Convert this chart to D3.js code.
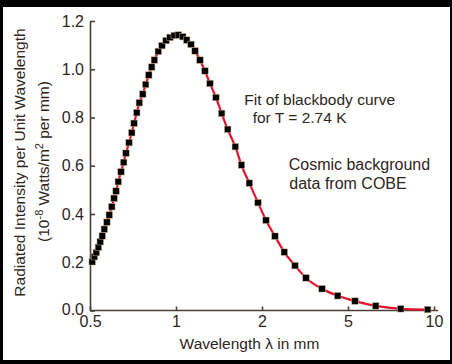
<!DOCTYPE html>
<html>
<head>
<meta charset="utf-8">
<script src="https://cdn.jsdelivr.net/npm/d3@7"></script>
<style>
  body { margin: 0; background: #000; }
  text { font-family: "Liberation Sans", Arial, Helvetica, sans-serif; fill: #2e251c; }
</style>
</head>
<body>
<div class="container"></div>
<script>
const WIDTH = 452;
const HEIGHT = 364;

// wavelength in mm
var wavelength = [0.509, 0.518, 0.526, 0.535, 0.543, 0.552, 0.561, 0.573, 0.584, 0.596,
    0.607, 0.617, 0.628, 0.642, 0.656, 0.668, 0.685, 0.700, 0.713, 0.729,
    0.744, 0.765, 0.783, 0.803, 0.822, 0.840, 0.867, 0.893, 0.923, 0.953,
    0.986, 1.019, 1.056, 1.090, 1.129, 1.166, 1.213, 1.263, 1.315, 1.380,
    1.445, 1.517, 1.613, 1.695, 1.806, 1.937, 2.087, 2.297, 2.536, 2.843,
    3.196, 3.790, 4.480, 5.290, 6.251, 7.646, 9.503];

// intensity, 10^-8 W/m^2 per mm
var intensity = [0.202, 0.223, 0.240, 0.262, 0.285, 0.309, 0.337, 0.366, 0.396, 0.430,
    0.465, 0.495, 0.534, 0.575, 0.614, 0.652, 0.696, 0.737, 0.776, 0.820,
    0.861, 0.897, 0.937, 0.976, 1.009, 1.038, 1.074, 1.098, 1.119, 1.132,
    1.140, 1.142, 1.135, 1.121, 1.103, 1.076, 1.038, 0.993, 0.941, 0.883,
    0.817, 0.751, 0.679, 0.603, 0.528, 0.447, 0.374, 0.308, 0.242, 0.186,
    0.135, 0.090, 0.061, 0.039, 0.019, 0.007, 0.004];

var xTicks = [0.5, 1, 2, 5, 10];
var yTicks = [0, 0.2, 0.4, 0.6, 0.8, 1.0, 1.2];

var points = wavelength.map(function (w, i) {
    return {x: w, y: intensity[i]};
});

// tick marks sit evenly spaced on the original, so the log scale is piecewise
var xScale = d3.scaleLog()
    .domain(xTicks)
    .range([90, 176, 262, 348, 434]);

var yScale = d3.scaleLinear()
    .domain([0, 1.2])
    .range([310.5, 21]);

var svg = d3.select('.container').append('svg')
    .attr('width', WIDTH)
    .attr('height', HEIGHT)
    .style('display', 'block');

// black frame, white panel
svg.append('rect')
    .attr('width', WIDTH).attr('height', HEIGHT)
    .attr('fill', '#000');
svg.append('rect')
    .attr('x', 3).attr('y', 7)
    .attr('width', 447).attr('height', 353)
    .attr('fill', '#fff');

var xAxis = d3.axisBottom(xScale)
    .tickValues(xTicks)
    .tickFormat(d3.format(''))
    .tickSizeInner(-4)
    .tickSizeOuter(0)
    .tickPadding(5);

var yAxis = d3.axisLeft(yScale)
    .tickValues(yTicks)
    .tickFormat(d3.format('.1f'))
    .tickSizeInner(-5)
    .tickSizeOuter(0)
    .tickPadding(6);

var gx = svg.append('g')
    .attr('transform', 'translate(0,' + yScale(0) + ')')
    .call(xAxis);

var gy = svg.append('g')
    .attr('transform', 'translate(' + xScale(0.5) + ',0)')
    .call(yAxis);

[gx, gy].forEach(function (g) {
    g.selectAll('path, line').attr('stroke', '#4a4036').attr('stroke-width', 1.6);
    g.selectAll('text')
        .style('font-family', '"Liberation Sans", Arial, sans-serif')
        .attr('font-size', 16)
        .attr('fill', '#2e251c');
});
// the 0.0 label sits a touch above the axis line
gy.selectAll('.tick text').filter(function (d) { return d === 0; }).attr('y', -1.5);
// axis line runs a little past the 10 tick
gx.select('.domain').attr('d', 'M' + xScale(0.5) + ',0H438');

var line = d3.line()
    .x(function (d) { return xScale(d.x); })
    .y(function (d) { return yScale(d.y); })
    .curve(d3.curveMonotoneX);

svg.append('path')
    .attr('d', line(points))
    .attr('fill', 'none')
    .attr('stroke', '#e4122b')
    .attr('stroke-width', 2.2);

svg.append('g').selectAll('rect').data(points)
    .enter().append('rect')
    .attr('x', function (d) { return xScale(d.x) - 3.25; })
    .attr('y', function (d) { return yScale(d.y) - 3.25; })
    .attr('width', 6.5)
    .attr('height', 6.5)
    .attr('fill', '#000')
    .attr('stroke', '#c9b58e')
    .attr('stroke-width', 0.5);

// axis titles
svg.append('text')
    .attr('x', 249.5).attr('y', 349)
    .attr('text-anchor', 'middle')
    .attr('font-size', 15.5)
    .text('Wavelength \u03bb in mm');

var yt = svg.append('g')
    .attr('transform', 'rotate(-90)')
    .attr('font-size', 15.5)
    .attr('text-anchor', 'middle');

yt.append('text')
    .attr('x', -162.5).attr('y', 25)
    .text('Radiated Intensity per Unit Wavelength');

var sub = yt.append('text')
    .attr('x', -161.5).attr('y', 49);
sub.append('tspan').text('(10');
sub.append('tspan').attr('dy', -6).attr('font-size', 11).text('-8');
sub.append('tspan').attr('dy', 6).text(' Watts/m');
sub.append('tspan').attr('dy', -6).attr('font-size', 11).text('2');
sub.append('tspan').attr('dy', 6).text(' per mm)');

// annotations
svg.append('text')
    .attr('x', 244.3).attr('y', 105)
    .attr('font-size', 15.5)
    .text('Fit of blackbody curve');
svg.append('text')
    .attr('x', 252.7).attr('y', 123.3)
    .attr('font-size', 15.5)
    .text('for T = 2.74 K');
svg.append('text')
    .attr('x', 288.7).attr('y', 170)
    .attr('font-size', 16)
    .text('Cosmic background');
svg.append('text')
    .attr('x', 289.3).attr('y', 188.7)
    .attr('font-size', 16)
    .text('data from COBE');
</script>
</body>
</html>
